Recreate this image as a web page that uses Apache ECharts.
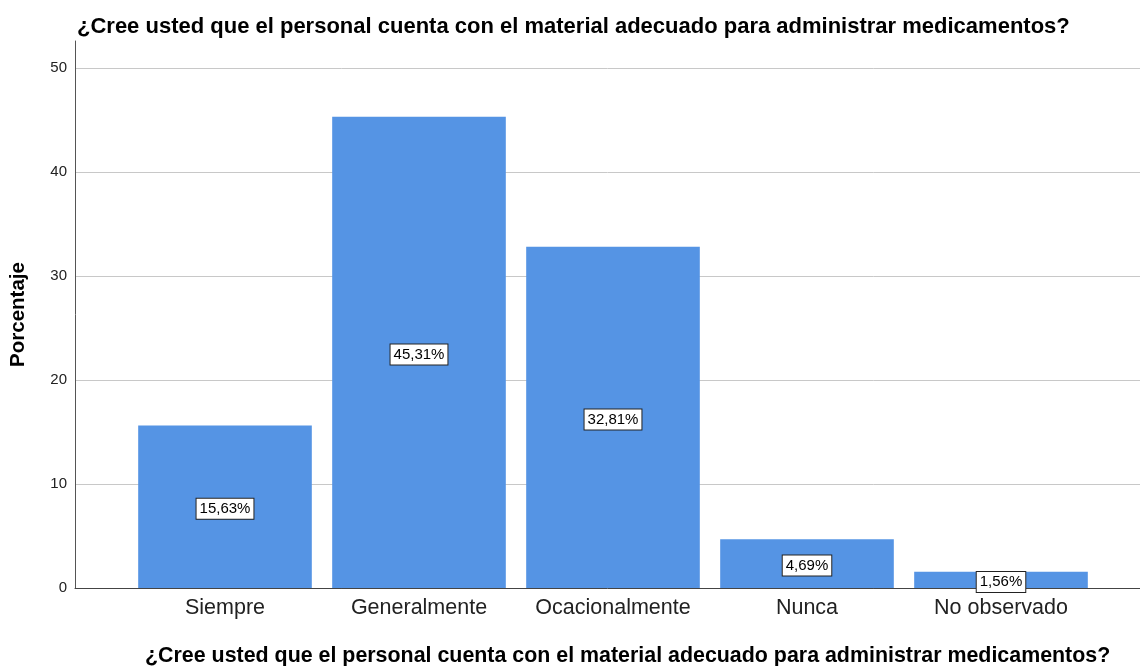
<!DOCTYPE html>
<html>
<head>
<meta charset="utf-8">
<script src="https://cdn.jsdelivr.net/npm/echarts@6/dist/echarts.min.js"></script>
<style>
  html, body { margin: 0; padding: 0; background: #ffffff; }
  #chart { width: 1140px; height: 666px; }
</style>
</head>
<body>
<div id="chart"></div>
<script>
// Question shown as chart title and category-axis title
const question = '¿Cree usted que el personal cuenta con el material adecuado para administrar medicamentos?';
// Answer categories
const categories = ['Siempre', 'Generalmente', 'Ocacionalmente', 'Nunca', 'No observado'];
// Percentage of respondents per answer
const percentages = [15.63, 45.31, 32.81, 4.69, 1.56];
// Value-axis ticks
const yTicks = [0, 10, 20, 30, 40, 50];

const FONT = '"Liberation Sans", Arial, sans-serif';
const BAR_COLOR = '#5594e4';

const chart = echarts.init(document.getElementById('chart'), null, { renderer: 'canvas' });

const option = {
  animation: false,
  backgroundColor: '#ffffff',
  title: [
    {
      text: question,
      left: 72, top: 11,
      textStyle: { fontFamily: FONT, fontSize: 22, fontWeight: 'bold', color: '#000000' }
    },
    {
      text: question,
      left: 140, top: 641,
      textStyle: { fontFamily: FONT, fontSize: 21.4, fontWeight: 'bold', color: '#000000' }
    }
  ],
  grid: [
    // frame: axis lines, reaching a little above the top tick
    { left: 75, right: 0, top: 41, bottom: 78, containLabel: false },
    // value scale with tick labels and gridlines
    { left: 75, right: 0, top: 68, bottom: 78, containLabel: false },
    // bars, with padding on both ends of the category axis
    { left: 128, right: 42, top: 68, bottom: 78, containLabel: false }
  ],
  xAxis: [
    {
      gridIndex: 0, type: 'value', min: 0, max: 1,
      axisLine: { show: true, lineStyle: { color: '#444444', width: 1 } },
      axisTick: { show: false }, axisLabel: { show: false }, splitLine: { show: false }
    },
    {
      gridIndex: 1, type: 'value', min: 0, max: 1, show: false
    },
    {
      gridIndex: 2, type: 'category', data: categories,
      axisLine: { show: false }, axisTick: { show: false },
      axisLabel: { interval: 0, hideOverlap: false, fontFamily: FONT, fontSize: 21.5, color: '#222222', margin: 9 }
    }
  ],
  yAxis: [
    {
      gridIndex: 0, type: 'value', min: 0, max: 1,
      name: 'Porcentaje', nameLocation: 'middle', nameGap: 46, nameRotate: 90,
      nameTextStyle: { fontFamily: FONT, fontSize: 20.5, fontWeight: 'bold', color: '#000000' },
      axisLine: { show: true, lineStyle: { color: '#555555', width: 1 } },
      axisTick: { show: false }, axisLabel: { show: false }, splitLine: { show: false }
    },
    {
      gridIndex: 1, type: 'value', min: yTicks[0], max: yTicks[yTicks.length - 1], interval: 10,
      axisLine: { show: false },
      axisTick: { show: false },
      axisLabel: { fontFamily: FONT, fontSize: 15, color: '#222222', margin: 8 },
      splitLine: { show: true, lineStyle: { color: '#c8c8c8', width: 1 } }
    },
    {
      gridIndex: 2, type: 'value', min: yTicks[0], max: yTicks[yTicks.length - 1], show: false
    }
  ],
  series: [
    {
      type: 'bar',
      xAxisIndex: 2, yAxisIndex: 2,
      data: percentages,
      barCategoryGap: '10.5%',
      itemStyle: { color: BAR_COLOR },
      label: {
        show: true,
        position: 'inside',
        offset: [0, 2],
        formatter: p => p.value.toFixed(2).replace('.', ',') + '%',
        fontFamily: FONT, fontSize: 15, color: '#000000',
        backgroundColor: '#ffffff',
        borderColor: '#222222', borderWidth: 1,
        padding: [3, 3, 2, 3]
      }
    }
  ]
};

chart.setOption(option);
</script>
</body>
</html>
